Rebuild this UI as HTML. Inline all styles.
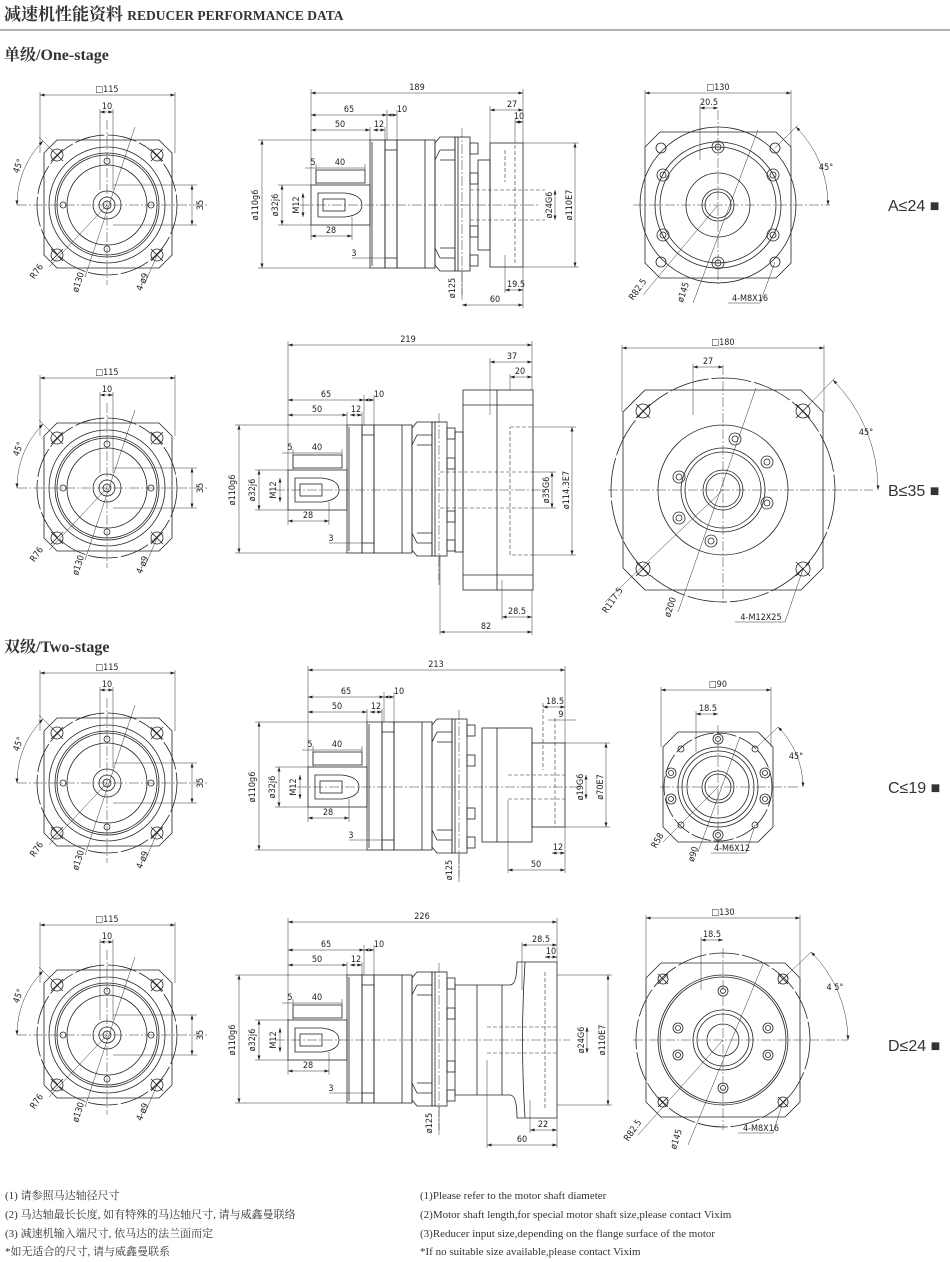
<!DOCTYPE html>
<html><head><meta charset="utf-8"><style>
html,body{margin:0;padding:0;background:#fff}
svg{display:block}
.l{stroke:#222;fill:none;stroke-width:.8}
.f{stroke:#222;fill:#fff;stroke-width:.8}
.d{stroke:#333;fill:none;stroke-width:.5}
.m{marker-start:url(#a);marker-end:url(#a)}
.c{stroke:#333;fill:none;stroke-width:.5;stroke-dasharray:10 2 2 2}
.k{stroke:#333;fill:none;stroke-width:.6;stroke-dasharray:4 2}
text{font-family:"DejaVu Sans Condensed","Liberation Sans",sans-serif;font-size:9px;fill:#222}
.t{text-anchor:middle}
text.h1{font-family:"Liberation Serif","Noto Serif CJK SC",serif;font-weight:bold;fill:#333}
text.n{font-family:"Liberation Serif","Noto Serif CJK SC",serif;font-size:11px;fill:#333}
text.lab{font-family:"Liberation Sans","Noto Sans CJK SC",sans-serif;font-size:16px;fill:#333}
</style></head><body>
<svg width="950" height="1262" viewBox="0 0 950 1262" xmlns="http://www.w3.org/2000/svg">
<defs>
<marker id="a" viewBox="0 0 6 4" refX="6" refY="2" markerWidth="5" markerHeight="3" markerUnits="userSpaceOnUse" orient="auto-start-reverse"><path d="M0,0L6,2L0,4z" fill="#222"/></marker>
<pattern id="h" width="4" height="4" patternUnits="userSpaceOnUse" patternTransform="rotate(45)"><rect width="4" height="4" fill="#fff"/><line x1="0" y1="0" x2="0" y2="4" stroke="#222" stroke-width="1"/></pattern>
<g id="lv">
<path class="l" d="M-50,-65H52L65,-52V50L52,63H-50L-63,50V-52Z"/>
<circle class="l" r="70" stroke-dasharray="30 3"/>
<circle class="l" r="58"/><circle class="l" r="52"/><circle class="l" r="50"/><circle class="l" r="40"/>
<circle class="l" r="14"/><circle class="l" r="8"/><circle class="l" r="4"/>
<g class="l"><circle cx="-50" cy="-50" r="6"/><circle cx="50" cy="-50" r="6"/><circle cx="-50" cy="50" r="6"/><circle cx="50" cy="50" r="6"/>
<path d="M-56,-56l12,12M-44,-56l-12,12M44,-56l12,12M56,-56l-12,12M-56,44l12,12M-44,44l-12,12M44,44l12,12M56,44l-12,12"/>
<circle cx="0" cy="-44" r="3"/><circle cx="0" cy="44" r="3"/><circle cx="-44" cy="0" r="3"/><circle cx="44" cy="0" r="3"/></g>
<line class="c" x1="-90" y1="0" x2="100" y2="0"/><line class="c" x1="0" y1="-85" x2="0" y2="80"/>
<line class="d m" x1="-67" y1="-110" x2="68" y2="-110"/><line class="d" x1="-67" y1="-113" x2="-67" y2="-52"/><line class="d" x1="68" y1="-113" x2="68" y2="-52"/>
<line class="d" x1="-7" y1="-96" x2="-7" y2="-15"/><line class="d" x1="6" y1="-96" x2="6" y2="-15"/><line class="d m" x1="-7" y1="-93" x2="6" y2="-93"/>
<line class="d" x1="6" y1="-20" x2="90" y2="-20"/><line class="d" x1="6" y1="20" x2="90" y2="20"/><line class="d m" x1="85" y1="-20" x2="85" y2="20"/>
<path class="d" d="M-64,-64A90,90 0 0 0 -90,0" marker-start="url(#a)" marker-end="url(#a)"/><line class="d" x1="-45" y1="-45" x2="-68" y2="-68"/>
<line class="d" x1="0" y1="0" x2="-58" y2="62"/><line class="d" x1="28" y1="-78" x2="-22" y2="72"/><line class="d" x1="50" y1="50" x2="38" y2="78"/>
</g>
<g id="sl">
<rect class="l" x="311" y="185" width="59" height="40"/>
<rect class="l" x="316" y="170" width="49" height="13"/>
<path class="l" d="M318,193H345Q362,195 362,205Q362,215 345,217H318Z" fill="url(#h)"/>
<rect class="f" x="323" y="199" width="22" height="12"/>
<rect class="l" x="370" y="140" width="15" height="128"/><line class="l" x1="372" y1="142" x2="372" y2="266"/>
<rect class="l" x="385" y="140" width="12" height="128"/><line class="l" x1="385" y1="150" x2="397" y2="150"/><line class="l" x1="385" y1="258" x2="397" y2="258"/>
<rect class="l" x="397" y="140" width="38" height="128"/><line class="l" x1="425" y1="140" x2="425" y2="268"/>
<path class="l" d="M440,137H455V271H440L435,265V143Z"/>
<path class="l" d="M440,150H455M440,160H455M440,248H455M440,258H455M435,160L440,150M435,248L440,258"/>
<rect class="l" x="455" y="137" width="15" height="134"/><line class="l" x1="458" y1="137" x2="458" y2="271"/>
<g class="l"><rect x="470" y="143" width="8" height="11"/><rect x="470" y="173" width="8" height="11"/><rect x="470" y="226" width="8" height="11"/><rect x="470" y="255" width="8" height="11"/></g>
<line class="c" x1="462" y1="128" x2="462" y2="295"/>
<line class="d m" x1="311" y1="115" x2="387" y2="115"/><line class="d m" x1="387" y1="115" x2="397" y2="115"/>
<line class="d" x1="387" y1="110" x2="387" y2="140"/><line class="d" x1="397" y1="110" x2="397" y2="140"/>
<line class="d m" x1="311" y1="130" x2="370" y2="130"/><line class="d m" x1="373" y1="130" x2="385" y2="130"/>
<line class="d" x1="370" y1="127" x2="370" y2="140"/><line class="d" x1="385" y1="127" x2="385" y2="140"/>
<line class="d" x1="305" y1="168" x2="365" y2="168"/><line class="d" x1="316" y1="164" x2="316" y2="185"/><line class="d" x1="365" y1="164" x2="365" y2="170"/>
<line class="d m" x1="311" y1="236" x2="352" y2="236"/><line class="d" x1="352" y1="217" x2="352" y2="240"/><line class="d" x1="311" y1="225" x2="311" y2="240"/>
<line class="d" x1="352" y1="258" x2="385" y2="258"/>
<line class="d m" x1="262" y1="140" x2="262" y2="268"/><line class="d" x1="258" y1="140" x2="370" y2="140"/><line class="d" x1="258" y1="268" x2="370" y2="268"/>
<line class="d m" x1="282" y1="185" x2="282" y2="225"/><line class="d" x1="278" y1="185" x2="311" y2="185"/><line class="d" x1="278" y1="225" x2="311" y2="225"/>
<line class="d m" x1="303" y1="193" x2="303" y2="217"/>
<line class="d" x1="462" y1="271" x2="462" y2="300"/>
</g>
</defs>

<text class="h1" x="4" y="20" style="font-size:17px">减速机性能资料 <tspan style="font-size:13.5px">REDUCER PERFORMANCE DATA</tspan></text>
<line x1="0" y1="30" x2="950" y2="30" stroke="#999" stroke-width="1.5"/>
<text class="h1" x="4" y="60" style="font-size:16px">单级/One-stage</text>
<text class="h1" x="4" y="652" style="font-size:16px">双级/Two-stage</text>

<g transform="translate(107,205)"><use href="#lv"/><text class="t" x="0" y="-113">□115</text><text class="t" x="0" y="-96">10</text><text transform="translate(96,0) rotate(-90)" class="t">35</text><text transform="translate(-86,-38) rotate(-70)" class="t">45°</text><text transform="translate(-68,68) rotate(-55)" class="t">R76</text><text transform="translate(-26,78) rotate(-72)" class="t">ø130</text><text transform="translate(38,78) rotate(-68)" class="t">4-ø9</text></g>
<g transform="translate(107,488)"><use href="#lv"/><text class="t" x="0" y="-113">□115</text><text class="t" x="0" y="-96">10</text><text transform="translate(96,0) rotate(-90)" class="t">35</text><text transform="translate(-86,-38) rotate(-70)" class="t">45°</text><text transform="translate(-68,68) rotate(-55)" class="t">R76</text><text transform="translate(-26,78) rotate(-72)" class="t">ø130</text><text transform="translate(38,78) rotate(-68)" class="t">4-ø9</text></g>
<g transform="translate(107,783)"><use href="#lv"/><text class="t" x="0" y="-113">□115</text><text class="t" x="0" y="-96">10</text><text transform="translate(96,0) rotate(-90)" class="t">35</text><text transform="translate(-86,-38) rotate(-70)" class="t">45°</text><text transform="translate(-68,68) rotate(-55)" class="t">R76</text><text transform="translate(-26,78) rotate(-72)" class="t">ø130</text><text transform="translate(38,78) rotate(-68)" class="t">4-ø9</text></g>
<g transform="translate(107,1035)"><use href="#lv"/><text class="t" x="0" y="-113">□115</text><text class="t" x="0" y="-96">10</text><text transform="translate(96,0) rotate(-90)" class="t">35</text><text transform="translate(-86,-38) rotate(-70)" class="t">45°</text><text transform="translate(-68,68) rotate(-55)" class="t">R76</text><text transform="translate(-26,78) rotate(-72)" class="t">ø130</text><text transform="translate(38,78) rotate(-68)" class="t">4-ø9</text></g>

<g><use href="#sl"/><text class="t" x="349" y="112">65</text><text class="t" x="402" y="112">10</text><text class="t" x="340" y="127">50</text><text class="t" x="379" y="127">12</text><text class="t" x="313" y="165">5</text><text class="t" x="340" y="165">40</text><text class="t" x="331" y="233">28</text><text class="t" x="354" y="256">3</text><text class="t" transform="translate(258,205) rotate(-90)">ø110g6</text><text class="t" transform="translate(278,205) rotate(-90)">ø32j6</text><text class="t" transform="translate(299,205) rotate(-90)">M12</text><text class="t" transform="translate(455,288) rotate(-90)">ø125</text></g>
<g transform="translate(-23,285)"><use href="#sl"/><text class="t" x="349" y="112">65</text><text class="t" x="402" y="112">10</text><text class="t" x="340" y="127">50</text><text class="t" x="379" y="127">12</text><text class="t" x="313" y="165">5</text><text class="t" x="340" y="165">40</text><text class="t" x="331" y="233">28</text><text class="t" x="354" y="256">3</text><text class="t" transform="translate(258,205) rotate(-90)">ø110g6</text><text class="t" transform="translate(278,205) rotate(-90)">ø32j6</text><text class="t" transform="translate(299,205) rotate(-90)">M12</text></g>
<g transform="translate(-3,582)"><use href="#sl"/><text class="t" x="349" y="112">65</text><text class="t" x="402" y="112">10</text><text class="t" x="340" y="127">50</text><text class="t" x="379" y="127">12</text><text class="t" x="313" y="165">5</text><text class="t" x="340" y="165">40</text><text class="t" x="331" y="233">28</text><text class="t" x="354" y="256">3</text><text class="t" transform="translate(258,205) rotate(-90)">ø110g6</text><text class="t" transform="translate(278,205) rotate(-90)">ø32j6</text><text class="t" transform="translate(299,205) rotate(-90)">M12</text><text class="t" transform="translate(455,288) rotate(-90)">ø125</text></g>
<g transform="translate(-23,835)"><use href="#sl"/><text class="t" x="349" y="112">65</text><text class="t" x="402" y="112">10</text><text class="t" x="340" y="127">50</text><text class="t" x="379" y="127">12</text><text class="t" x="313" y="165">5</text><text class="t" x="340" y="165">40</text><text class="t" x="331" y="233">28</text><text class="t" x="354" y="256">3</text><text class="t" transform="translate(258,205) rotate(-90)">ø110g6</text><text class="t" transform="translate(278,205) rotate(-90)">ø32j6</text><text class="t" transform="translate(299,205) rotate(-90)">M12</text><text class="t" transform="translate(455,288) rotate(-90)">ø125</text></g>

<line class="c" x1="300" y1="205" x2="540" y2="205"/>
<rect class="l" x="478" y="160" width="12" height="90"/>
<rect class="l" x="490" y="143" width="33" height="124"/>
<line class="k" x1="470" y1="190" x2="545" y2="190"/><line class="k" x1="470" y1="220" x2="545" y2="220"/>
<line class="k" x1="515" y1="145" x2="515" y2="265"/><line class="k" x1="505" y1="150" x2="505" y2="182"/>
<line class="d m" x1="311" y1="93" x2="523" y2="93"/><line class="d" x1="311" y1="89" x2="311" y2="185"/><line class="d" x1="523" y1="89" x2="523" y2="143"/>
<text class="t" x="417" y="90">189</text>
<line class="d m" x1="490" y1="110" x2="523" y2="110"/><line class="d" x1="490" y1="106" x2="490" y2="143"/><text class="t" x="512" y="107">27</text>
<line class="d m" x1="515" y1="122" x2="523" y2="122"/><line class="d" x1="515" y1="119" x2="515" y2="143"/><text class="t" x="519" y="119">10</text>
<line class="d m" x1="555" y1="190" x2="555" y2="220"/><text class="t" transform="translate(552,205) rotate(-90)">ø24G6</text>
<line class="d m" x1="575" y1="143" x2="575" y2="267"/><line class="d" x1="523" y1="143" x2="579" y2="143"/><line class="d" x1="523" y1="267" x2="579" y2="267"/><text class="t" transform="translate(572,205) rotate(-90)">ø110E7</text>
<line class="d m" x1="505" y1="290" x2="523" y2="290"/><line class="d" x1="505" y1="255" x2="505" y2="293"/><line class="d" x1="523" y1="267" x2="523" y2="308"/><text class="t" x="516" y="287">19.5</text>
<line class="d m" x1="462" y1="305" x2="523" y2="305"/><text class="t" x="495" y="302">60</text>

<line class="c" x1="275" y1="490" x2="545" y2="490"/>
<rect class="l" x="455" y="432" width="8" height="120"/>
<rect class="l" x="463" y="390" width="70" height="200"/>
<line class="l" x1="497" y1="390" x2="497" y2="590"/><line class="l" x1="463" y1="405" x2="533" y2="405"/><line class="l" x1="463" y1="575" x2="533" y2="575"/>
<line class="k" x1="440" y1="472" x2="533" y2="472"/><line class="k" x1="440" y1="508" x2="533" y2="508"/>
<rect class="k" x="510" y="427" width="23" height="128"/>
<line class="d m" x1="288" y1="345" x2="532" y2="345"/><line class="d" x1="288" y1="341" x2="288" y2="470"/><line class="d" x1="532" y1="341" x2="532" y2="390"/>
<text class="t" x="408" y="342">219</text>
<line class="d m" x1="490" y1="362" x2="532" y2="362"/><line class="d" x1="490" y1="358" x2="490" y2="415"/><text class="t" x="512" y="359">37</text>
<line class="d m" x1="510" y1="377" x2="532" y2="377"/><line class="d" x1="510" y1="374" x2="510" y2="390"/><text class="t" x="520" y="374">20</text>
<line class="d m" x1="552" y1="472" x2="552" y2="508"/><line class="d" x1="533" y1="472" x2="556" y2="472"/><line class="d" x1="533" y1="508" x2="556" y2="508"/><text class="t" transform="translate(549,490) rotate(-90)">ø35G6</text>
<line class="d m" x1="572" y1="427" x2="572" y2="555"/><line class="d" x1="533" y1="427" x2="576" y2="427"/><line class="d" x1="533" y1="555" x2="576" y2="555"/><text class="t" transform="translate(569,490) rotate(-90)">ø114.3E7</text>
<line class="d m" x1="502" y1="617" x2="532" y2="617"/><line class="d" x1="502" y1="580" x2="502" y2="620"/><line class="d" x1="532" y1="590" x2="532" y2="635"/><text class="t" x="517" y="614">28.5</text>
<line class="d m" x1="440" y1="632" x2="532" y2="632"/><line class="d" x1="440" y1="555" x2="440" y2="635"/><text class="t" x="486" y="629">82</text>

<line class="c" x1="297" y1="787" x2="580" y2="787"/>
<rect class="l" x="482" y="728" width="50" height="114"/><line class="l" x1="497" y1="728" x2="497" y2="842"/>
<rect class="l" x="532" y="743" width="33" height="84"/>
<line class="k" x1="508" y1="775" x2="565" y2="775"/><line class="k" x1="508" y1="799" x2="565" y2="799"/>
<line class="k" x1="543" y1="703" x2="543" y2="770"/><line class="k" x1="555" y1="718" x2="555" y2="827"/>
<line class="d m" x1="308" y1="670" x2="565" y2="670"/><line class="d" x1="308" y1="666" x2="308" y2="767"/><line class="d" x1="565" y1="666" x2="565" y2="743"/>
<text class="t" x="436" y="667">213</text>
<line class="d m" x1="543" y1="707" x2="565" y2="707"/><text class="t" x="555" y="704">18.5</text>
<line class="d" x1="548" y1="720" x2="576" y2="720"/><text class="t" x="561" y="717">9</text>
<line class="d m" x1="586" y1="775" x2="586" y2="799"/><text class="t" transform="translate(583,787) rotate(-90)">ø19G6</text>
<line class="d m" x1="606" y1="743" x2="606" y2="827"/><line class="d" x1="565" y1="743" x2="610" y2="743"/><line class="d" x1="565" y1="827" x2="610" y2="827"/><text class="t" transform="translate(603,787) rotate(-90)">ø70E7</text>
<line class="d m" x1="552" y1="853" x2="565" y2="853"/><line class="d" x1="565" y1="827" x2="565" y2="873"/><text class="t" x="558" y="850">12</text>
<line class="d m" x1="508" y1="870" x2="565" y2="870"/><line class="d" x1="508" y1="800" x2="508" y2="873"/><text class="t" x="536" y="867">50</text>

<line class="c" x1="275" y1="1040" x2="570" y2="1040"/>
<path class="l" d="M455,985H510Q517,985 517,962H557V1118H517Q517,1095 510,1095H455Z"/>
<line class="l" x1="477" y1="985" x2="477" y2="1095"/><line class="l" x1="502" y1="985" x2="502" y2="1095"/>
<path class="l" d="M525,962Q520,1040 525,1118"/>
<line class="k" x1="545" y1="972" x2="545" y2="1108"/>
<line class="k" x1="487" y1="1027" x2="557" y2="1027"/><line class="k" x1="487" y1="1053" x2="557" y2="1053"/>
<line class="d m" x1="288" y1="922" x2="557" y2="922"/><line class="d" x1="288" y1="918" x2="288" y2="1020"/><line class="d" x1="557" y1="918" x2="557" y2="962"/>
<text class="t" x="422" y="919">226</text>
<line class="d m" x1="522" y1="945" x2="557" y2="945"/><line class="d" x1="522" y1="942" x2="522" y2="990"/><text class="t" x="541" y="942">28.5</text>
<line class="d m" x1="545" y1="957" x2="557" y2="957"/><text class="t" x="551" y="954">10</text>
<line class="d m" x1="587" y1="1027" x2="587" y2="1053"/><text class="t" transform="translate(584,1040) rotate(-90)">ø24G6</text>
<line class="d m" x1="608" y1="975" x2="608" y2="1105"/><line class="d" x1="557" y1="975" x2="612" y2="975"/><line class="d" x1="557" y1="1105" x2="612" y2="1105"/><text class="t" transform="translate(605,1040) rotate(-90)">ø110E7</text>
<line class="d m" x1="530" y1="1130" x2="557" y2="1130"/><line class="d" x1="530" y1="1100" x2="530" y2="1133"/><line class="d" x1="557" y1="1118" x2="557" y2="1148"/><text class="t" x="543" y="1127">22</text>
<line class="d m" x1="487" y1="1145" x2="557" y2="1145"/><line class="d" x1="487" y1="1060" x2="487" y2="1148"/><text class="t" x="522" y="1142">60</text>

<g transform="translate(718,205)">
<path class="l" d="M-58,-73H58L73,-58V58L58,73H-58L-73,58V-58Z"/>
<circle class="l" r="78"/><circle class="l" r="63"/><circle class="l" r="58"/><circle class="l" r="32"/><circle class="l" r="16"/><circle class="l" r="13"/>
<g class="l"><circle cx="0" cy="-58" r="6"/><circle cx="0" cy="-58" r="3"/><circle cx="0" cy="58" r="6"/><circle cx="0" cy="58" r="3"/><circle cx="-55" cy="-30" r="6"/><circle cx="-55" cy="-30" r="3"/><circle cx="55" cy="-30" r="6"/><circle cx="55" cy="-30" r="3"/><circle cx="-55" cy="30" r="6"/><circle cx="-55" cy="30" r="3"/><circle cx="55" cy="30" r="6"/><circle cx="55" cy="30" r="3"/>
<circle cx="-57" cy="-57" r="5"/><circle cx="57" cy="-57" r="5"/><circle cx="-57" cy="57" r="5"/><circle cx="57" cy="57" r="5"/></g>
<line class="c" x1="-85" y1="0" x2="112" y2="0"/><line class="c" x1="0" y1="-95" x2="0" y2="80"/>
<line class="d m" x1="-73" y1="-112" x2="73" y2="-112"/><line class="d" x1="-73" y1="-115" x2="-73" y2="-58"/><line class="d" x1="73" y1="-115" x2="73" y2="-58"/>
<line class="d m" x1="-18" y1="-97" x2="0" y2="-97"/><line class="d" x1="-18" y1="-100" x2="-18" y2="-45"/>
<path class="d" d="M110,0A110,110 0 0 0 78,-78" marker-start="url(#a)" marker-end="url(#a)"/><line class="d" x1="57" y1="-57" x2="80" y2="-80"/>
<line class="d" x1="0" y1="0" x2="-75" y2="90"/><line class="d" x1="40" y1="-75" x2="-25" y2="98"/><path class="d" d="M57,57L42,98H10"/>
<text class="t" x="0" y="-115">□130</text><text class="t" x="-9" y="-100">20.5</text><text class="t" x="108" y="-35">45°</text>
<text class="t" transform="translate(-78,86) rotate(-55)">R82.5</text><text class="t" transform="translate(-32,88) rotate(-72)">ø145</text><text class="t" x="32" y="96">4-M8X16</text>
</g>
<text class="lab" x="888" y="211">A≤24 ■</text>

<g transform="translate(723,490)">
<path class="l" d="M-78,-100H78L100,-78V78L78,100H-78L-100,78V-78Z"/>
<circle class="l" r="112" stroke-dasharray="40 3"/><circle class="l" r="65"/><circle class="l" r="42"/><circle class="l" r="38"/><circle class="l" r="20"/><circle class="l" r="17"/>
<g class="l"><circle cx="12" cy="-51" r="6"/><circle cx="12" cy="-51" r="3"/><circle cx="44" cy="-28" r="6"/><circle cx="44" cy="-28" r="3"/><circle cx="44" cy="13" r="6"/><circle cx="44" cy="13" r="3"/><circle cx="-12" cy="51" r="6"/><circle cx="-12" cy="51" r="3"/><circle cx="-44" cy="28" r="6"/><circle cx="-44" cy="28" r="3"/><circle cx="-44" cy="-13" r="6"/><circle cx="-44" cy="-13" r="3"/>
<circle cx="-80" cy="-79" r="7"/><circle cx="80" cy="-79" r="7"/><circle cx="-80" cy="79" r="7"/><circle cx="80" cy="79" r="7"/>
<path d="M-87,-86l14,14M-73,-86l-14,14M73,-86l14,14M87,-86l-14,14M-87,72l14,14M-73,72l-14,14M73,72l14,14M87,72l-14,14"/></g>
<line class="c" x1="-115" y1="0" x2="150" y2="0"/><line class="c" x1="0" y1="-125" x2="0" y2="115"/>
<line class="d m" x1="-101" y1="-142" x2="101" y2="-142"/><line class="d" x1="-101" y1="-145" x2="-101" y2="-78"/><line class="d" x1="101" y1="-145" x2="101" y2="-78"/>
<line class="d m" x1="-30" y1="-123" x2="0" y2="-123"/><line class="d" x1="-30" y1="-126" x2="-30" y2="-75"/>
<path class="d" d="M155,0A155,155 0 0 0 110,-110" marker-start="url(#a)" marker-end="url(#a)"/><line class="d" x1="80" y1="-79" x2="112" y2="-112"/>
<line class="d" x1="0" y1="0" x2="-118" y2="112"/><line class="d" x1="33" y1="-102" x2="-45" y2="122"/><path class="d" d="M80,79L62,132H12"/>
<text class="t" x="0" y="-145">□180</text><text class="t" x="-15" y="-126">27</text><text class="t" x="143" y="-55">45°</text>
<text class="t" transform="translate(-108,112) rotate(-55)">R117.5</text><text class="t" transform="translate(-50,118) rotate(-72)">ø200</text><text class="t" x="38" y="130">4-M12X25</text>
</g>
<text class="lab" x="888" y="496">B≤35 ■</text>

<g transform="translate(718,787)">
<path class="l" d="M-40,-55H40L55,-40V40L40,55H-40L-55,40V-40Z"/>
<circle class="l" r="54" stroke-dasharray="20 3"/><circle class="l" r="40"/><circle class="l" r="36"/><circle class="l" r="31"/><circle class="l" r="16"/><circle class="l" r="13"/>
<g class="l"><circle cx="0" cy="-48" r="5"/><circle cx="0" cy="-48" r="2.5"/><circle cx="0" cy="48" r="5"/><circle cx="0" cy="48" r="2.5"/><circle cx="-47" cy="-14" r="5"/><circle cx="-47" cy="-14" r="2.5"/><circle cx="47" cy="-14" r="5"/><circle cx="47" cy="-14" r="2.5"/><circle cx="-47" cy="12" r="5"/><circle cx="-47" cy="12" r="2.5"/><circle cx="47" cy="12" r="5"/><circle cx="47" cy="12" r="2.5"/>
<circle cx="-37" cy="-38" r="3"/><circle cx="37" cy="-38" r="3"/><circle cx="-37" cy="38" r="3"/><circle cx="37" cy="38" r="3"/></g>
<line class="c" x1="-58" y1="0" x2="80" y2="0"/><line class="c" x1="0" y1="-62" x2="0" y2="58"/>
<line class="d m" x1="-57" y1="-97" x2="53" y2="-97"/><line class="d" x1="-57" y1="-100" x2="-57" y2="-40"/><line class="d" x1="53" y1="-100" x2="53" y2="-40"/>
<line class="d m" x1="-22" y1="-73" x2="0" y2="-73"/><line class="d" x1="-22" y1="-76" x2="-22" y2="-35"/>
<path class="d" d="M85,0A85,85 0 0 0 60,-60" marker-start="url(#a)" marker-end="url(#a)"/><line class="d" x1="37" y1="-38" x2="60" y2="-60"/>
<line class="d" x1="0" y1="0" x2="-55" y2="55"/><line class="d" x1="22" y1="-50" x2="-20" y2="65"/><path class="d" d="M37,38L28,66H-7"/>
<text class="t" x="0" y="-100">□90</text><text class="t" x="-10" y="-76">18.5</text><text class="t" x="78" y="-28">45°</text>
<text class="t" transform="translate(-58,55) rotate(-60)">R58</text><text class="t" transform="translate(-22,68) rotate(-72)">ø90</text><text class="t" x="14" y="64">4-M6X12</text>
</g>
<text class="lab" x="888" y="793">C≤19 ■</text>

<g transform="translate(723,1040)">
<path class="l" d="M-62,-77H62L77,-62V62L62,77H-62L-77,62V-62Z"/>
<circle class="l" r="87" stroke-dasharray="30 3"/><circle class="l" r="65"/><circle class="l" r="63"/><circle class="l" r="30"/><circle class="l" r="26"/><circle class="l" r="16"/>
<g class="l"><circle cx="0" cy="-49" r="5"/><circle cx="0" cy="-49" r="2.5"/><circle cx="0" cy="48" r="5"/><circle cx="0" cy="48" r="2.5"/><circle cx="-45" cy="-12" r="5"/><circle cx="-45" cy="-12" r="2.5"/><circle cx="45" cy="-12" r="5"/><circle cx="45" cy="-12" r="2.5"/><circle cx="-45" cy="15" r="5"/><circle cx="-45" cy="15" r="2.5"/><circle cx="45" cy="15" r="5"/><circle cx="45" cy="15" r="2.5"/>
<circle cx="-60" cy="-61" r="5"/><circle cx="60" cy="-61" r="5"/><circle cx="-60" cy="62" r="5"/><circle cx="60" cy="62" r="5"/>
<path d="M-65,-66l10,10M-55,-66l-10,10M55,-66l10,10M65,-66l-10,10M-65,57l10,10M-55,57l-10,10M55,57l10,10M65,57l-10,10"/></g>
<line class="c" x1="-90" y1="0" x2="125" y2="0"/><line class="c" x1="0" y1="-92" x2="0" y2="90"/>
<line class="d m" x1="-77" y1="-122" x2="77" y2="-122"/><line class="d" x1="-77" y1="-125" x2="-77" y2="-62"/><line class="d" x1="77" y1="-125" x2="77" y2="-62"/>
<line class="d m" x1="-22" y1="-100" x2="0" y2="-100"/><line class="d" x1="-22" y1="-103" x2="-22" y2="-50"/>
<path class="d" d="M125,0A125,125 0 0 0 88,-88" marker-start="url(#a)" marker-end="url(#a)"/><line class="d" x1="60" y1="-61" x2="88" y2="-88"/>
<line class="d" x1="0" y1="0" x2="-85" y2="95"/><line class="d" x1="40" y1="-76" x2="-35" y2="105"/><path class="d" d="M60,62L50,93H15"/>
<text class="t" x="0" y="-125">□130</text><text class="t" x="-11" y="-103">18.5</text><text class="t" x="112" y="-50">4 5°</text>
<text class="t" transform="translate(-88,92) rotate(-55)">R82.5</text><text class="t" transform="translate(-44,100) rotate(-72)">ø145</text><text class="t" x="38" y="91">4-M8X16</text>
</g>
<text class="lab" x="888" y="1051">D≤24 ■</text>

<text class="n" x="5" y="1199">(1) 请参照马达轴径尺寸</text>
<text class="n" x="5" y="1218">(2) 马达轴最长长度, 如有特殊的马达轴尺寸, 请与威鑫曼联络</text>
<text class="n" x="5" y="1237">(3) 减速机输入端尺寸, 依马达的法兰面而定</text>
<text class="n" x="5" y="1255">*如无适合的尺寸, 请与威鑫曼联系</text>
<text class="n" x="420" y="1199">(1)Please refer to the motor shaft diameter</text>
<text class="n" x="420" y="1218">(2)Motor shaft length,for special motor shaft size,please contact Vixim</text>
<text class="n" x="420" y="1237">(3)Reducer input size,depending on the flange surface of the motor</text>
<text class="n" x="420" y="1255">*If no suitable size available,please contact Vixim</text>
</svg>
</body></html>
